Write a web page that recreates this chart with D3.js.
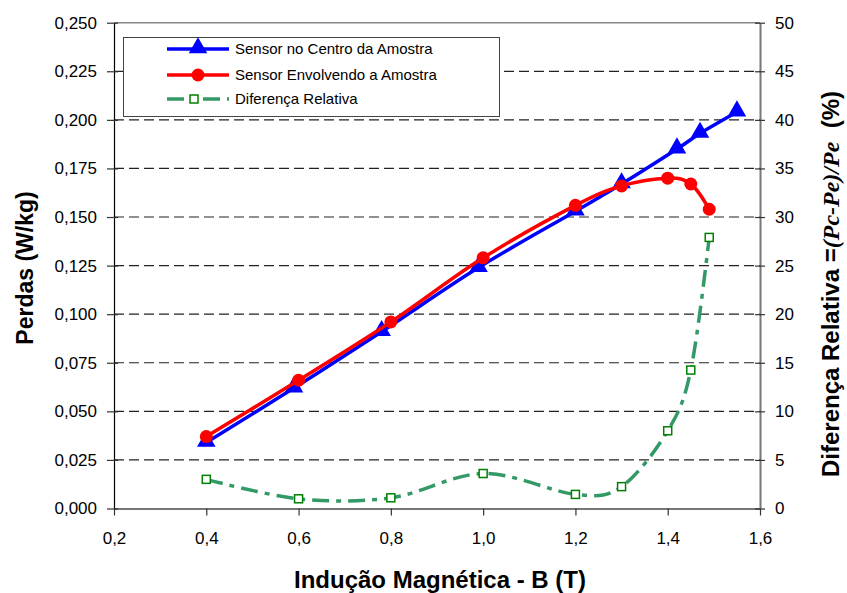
<!DOCTYPE html>
<html lang="pt">
<head>
<meta charset="utf-8">
<title>Perdas x Indução Magnética</title>
<script src="https://d3js.org/d3.v7.min.js"></script>
<style>
  body { margin: 0; background: #fff; }
  svg text { font-family: 'Liberation Sans', Arial, sans-serif; fill: #000; }
  .tick text { font-size: 17px; }
  .title { font-size: 24px; font-weight: bold; }
  .legend text { font-size: 15px; }
</style>
</head>
<body>
<div id="chart"></div>
<script>

// data
var bCentro = [0.40, 0.59, 0.78, 0.99, 1.20, 1.30, 1.42, 1.47, 1.55];
var perdasCentro = [0.034, 0.062, 0.091, 0.124, 0.153, 0.167, 0.185, 0.193, 0.204];

var bEnvolvendo = [0.40, 0.60, 0.80, 1.00, 1.20, 1.30, 1.40, 1.45, 1.49];
var perdasEnvolvendo = [0.037, 0.066, 0.096, 0.129, 0.156, 0.166, 0.170, 0.167, 0.154];

var diferenca = [3.0, 1.0, 1.1, 3.6, 1.45, 2.25, 8.0, 14.25, 27.9];

var xTicks = [0.2, 0.4, 0.6, 0.8, 1.0, 1.2, 1.4, 1.6];
var yTicks = [0, 0.025, 0.05, 0.075, 0.1, 0.125, 0.15, 0.175, 0.2, 0.225, 0.25];
var y2Ticks = [0, 5, 10, 15, 20, 25, 30, 35, 40, 45, 50];

var seriesNames = ["Sensor no Centro da Amostra", "Sensor Envolvendo a Amostra", "Diferença Relativa"];

var colours = { blue: "#0000ff", red: "#ff0000", green: "#339966", greenMark: "#008000" };

var width = 847, height = 593;
var plotLeft = 114, plotRight = 760, plotTop = 22.7, plotBottom = 508.5;

var ptBR = d3.formatLocale({ decimal: ",", thousands: ".", grouping: [3], currency: ["R$", ""] });
var fmt1 = ptBR.format(".1f"), fmt3 = ptBR.format(".3f");

var svg = d3.select("#chart").append("svg")
  .attr("width", width)
  .attr("height", height);

var x = d3.scaleLinear().domain([0.2, 1.6]).range([plotLeft, plotRight]);
var y = d3.scaleLinear().domain([0, 0.25]).range([plotBottom, plotTop]);
var y2 = d3.scaleLinear().domain([0, 50]).range([plotBottom, plotTop]);

// gridlines
svg.append("g")
  .selectAll("line")
  .data(yTicks.slice(1, -1))
  .enter().append("line")
    .attr("x1", plotLeft).attr("x2", plotRight)
    .attr("y1", function(d) { return y(d); })
    .attr("y2", function(d) { return y(d); })
    .attr("stroke", "#222")
    .attr("stroke-width", 1.2)
    .attr("stroke-dasharray", "10,5");

// top border of the plot area
svg.append("line")
  .attr("x1", plotLeft).attr("x2", plotRight)
  .attr("y1", plotTop).attr("y2", plotTop)
  .attr("stroke", "#888").attr("stroke-width", 1.5);

// axes
var xAxis = svg.append("g")
  .attr("transform", "translate(0," + plotBottom + ")")
  .call(d3.axisBottom(x).tickValues(xTicks).tickFormat(fmt1).tickSize(7).tickPadding(16).tickSizeOuter(0));
xAxis.select(".domain").attr("stroke", "#777").attr("stroke-width", 2);

var yAxis = svg.append("g")
  .attr("transform", "translate(" + plotLeft + ",0)")
  .call(d3.axisLeft(y).tickValues(yTicks).tickFormat(fmt3).tickSize(7).tickPadding(10).tickSizeOuter(0));
yAxis.select(".domain").attr("stroke", "#000").attr("stroke-width", 1.2);
yAxis.selectAll(".tick line").attr("x2", 4).attr("x1", -7);

var y2Axis = svg.append("g")
  .attr("transform", "translate(" + plotRight + ",0)")
  .call(d3.axisRight(y2).tickValues(y2Ticks).tickSize(5).tickPadding(10).tickSizeOuter(0));
y2Axis.select(".domain").attr("stroke", "#777").attr("stroke-width", 2);
y2Axis.selectAll(".tick line").attr("x1", -5).attr("x2", 5);

svg.selectAll(".tick line").attr("stroke", "#333").attr("stroke-width", 1.2);

// lines
var smooth = d3.curveCatmullRom.alpha(0);

var centro = bCentro.map(function(b, i) { return [b, perdasCentro[i]]; });
var envolvendo = bEnvolvendo.map(function(b, i) { return [b, perdasEnvolvendo[i]]; });
var difData = bEnvolvendo.map(function(b, i) { return [b, diferenca[i]]; });

var lineLeft = d3.line().curve(smooth)
  .x(function(d) { return x(d[0]); })
  .y(function(d) { return y(d[1]); });
var lineRight = d3.line().curve(smooth)
  .x(function(d) { return x(d[0]); })
  .y(function(d) { return y2(d[1]); });

svg.append("path")
  .datum(difData)
  .attr("d", lineRight)
  .attr("fill", "none")
  .attr("stroke", colours.green)
  .attr("stroke-width", 3.5)
  .attr("stroke-dasharray", "17,7,5,7");

svg.append("path")
  .datum(centro)
  .attr("d", lineLeft)
  .attr("fill", "none")
  .attr("stroke", colours.blue)
  .attr("stroke-width", 3.5);

var tri = d3.symbol().type(d3.symbolTriangle).size(150);
svg.append("g").selectAll("path")
  .data(centro)
  .enter().append("path")
    .attr("d", tri)
    .attr("transform", function(d) { return "translate(" + x(d[0]) + "," + (y(d[1]) - 1) + ")"; })
    .attr("fill", colours.blue);

svg.append("path")
  .datum(envolvendo)
  .attr("d", lineLeft)
  .attr("fill", "none")
  .attr("stroke", colours.red)
  .attr("stroke-width", 3.5);

svg.append("g").selectAll("circle")
  .data(envolvendo)
  .enter().append("circle")
    .attr("cx", function(d) { return x(d[0]); })
    .attr("cy", function(d) { return y(d[1]); })
    .attr("r", 6.5)
    .attr("fill", colours.red);

svg.append("g").selectAll("rect")
  .data(difData)
  .enter().append("rect")
    .attr("x", function(d) { return x(d[0]) - 4; })
    .attr("y", function(d) { return y2(d[1]) - 4; })
    .attr("width", 8).attr("height", 8)
    .attr("fill", "#fff")
    .attr("stroke", colours.greenMark)
    .attr("stroke-width", 1.5);

// legend
var legend = svg.append("g").attr("class", "legend");
legend.append("rect")
  .attr("x", 123.5).attr("y", 37.5)
  .attr("width", 376).attr("height", 79)
  .attr("fill", "#fff")
  .attr("stroke", "#444").attr("stroke-width", 1);

var rowY = [49, 75, 99];
var lx1 = 167, lx2 = 229, lxm = 198;

legend.append("line").attr("x1", lx1).attr("x2", lx2).attr("y1", rowY[0]).attr("y2", rowY[0])
  .attr("stroke", colours.blue).attr("stroke-width", 3.5);
legend.append("path").attr("d", tri).attr("transform", "translate(" + lxm + "," + (rowY[0] - 1) + ")").attr("fill", colours.blue);

legend.append("line").attr("x1", lx1).attr("x2", lx2).attr("y1", rowY[1]).attr("y2", rowY[1])
  .attr("stroke", colours.red).attr("stroke-width", 3.5);
legend.append("circle").attr("cx", lxm).attr("cy", rowY[1]).attr("r", 6.5).attr("fill", colours.red);

legend.append("line").attr("x1", lx1).attr("x2", lx2).attr("y1", rowY[2]).attr("y2", rowY[2])
  .attr("stroke", colours.green).attr("stroke-width", 3.5).attr("stroke-dasharray", "17,7,5,7");
legend.append("rect").attr("x", lx1 + 23).attr("y", rowY[2] - 4).attr("width", 8).attr("height", 8)
  .attr("fill", "#fff").attr("stroke", colours.greenMark).attr("stroke-width", 1.5);

legend.selectAll("text.lbl")
  .data(seriesNames)
  .enter().append("text")
    .attr("class", "lbl")
    .attr("x", 235)
    .attr("y", function(d, i) { return rowY[i]; })
    .attr("dy", "0.35em")
    .text(function(d) { return d; });

// axis titles
svg.append("text")
  .attr("class", "title")
  .style("font-size", "23px")
  .attr("text-anchor", "middle")
  .attr("transform", "translate(25,268) rotate(-90)")
  .attr("dy", "0.35em")
  .text("Perdas (W/kg)");

svg.append("text")
  .attr("class", "title")
  .attr("text-anchor", "middle")
  .attr("x", 440).attr("y", 580)
  .attr("dy", "0.35em")
  .text("Indução Magnética - B (T)");

var rt = svg.append("text")
  .attr("class", "title")
  .attr("text-anchor", "middle")
  .attr("transform", "translate(831,284) rotate(-90)")
  .attr("dy", "0.35em");
rt.append("tspan").text("Diferença Relativa =");
rt.append("tspan").style("font-family", "'Liberation Serif', 'Times New Roman', serif").style("font-style", "italic").text("(Pc-Pe)/Pe");
rt.append("tspan").text("\u00a0\u00a0(%)");

</script>
</body>
</html>
